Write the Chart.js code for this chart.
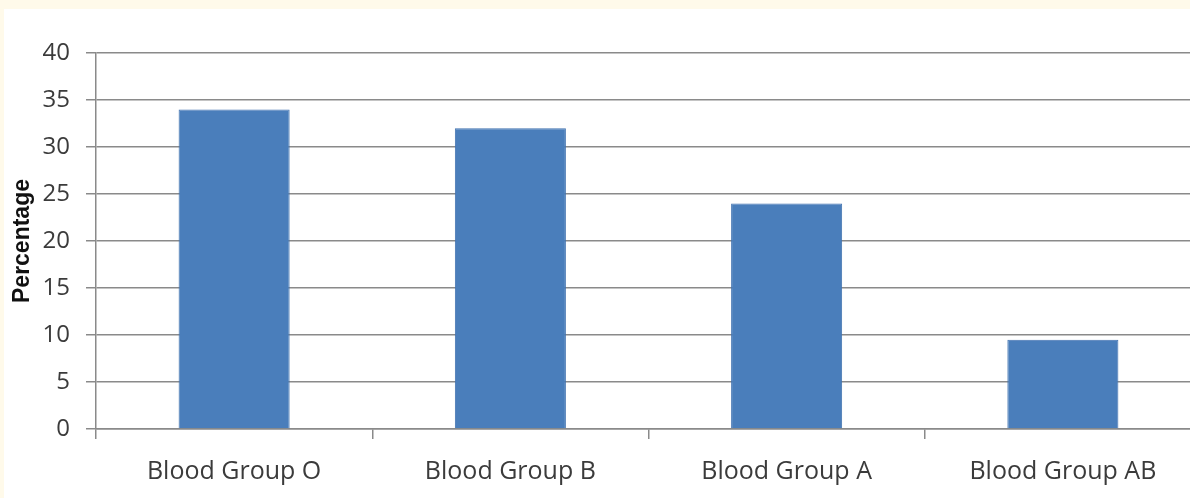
<!DOCTYPE html>
<html>
<head>
<meta charset="utf-8">
<script src="https://cdn.jsdelivr.net/npm/chart.js@4/dist/chart.umd.min.js"></script>
<style>
  html, body { margin: 0; padding: 0; width: 1190px; height: 498px; overflow: hidden; background: #fffaea; }
  #wrap { position: absolute; left: 4px; top: 9px; width: 1200px; height: 489px; background: #ffffff; }
  canvas { display: block; }
</style>
</head>
<body>
<div id="wrap"><canvas id="c" width="1200" height="489"></canvas></div>
<script>
const categories = ["Blood Group O", "Blood Group B", "Blood Group A", "Blood Group AB"];
const percentages = [34, 32, 24, 9.5];
const yTicks = [0, 5, 10, 15, 20, 25, 30, 35, 40];
const yTitle = "Percentage";

const gridColor = "#8a8a8a";
const textColor = "#3b3b3b";

new Chart(document.getElementById("c"), {
  type: "bar",
  data: {
    labels: categories,
    datasets: [{
      data: percentages,
      backgroundColor: "#4a7ebb",
      borderColor: "#4172b0",
      borderWidth: 1,
      categoryPercentage: 1,
      barPercentage: 0.402
    }]
  },
  options: {
    responsive: false,
    animation: false,
    layout: { padding: { left: 0, right: 3, top: 44, bottom: 0 } },
    plugins: { legend: { display: false }, tooltip: { enabled: false } },
    scales: {
      x: {
        offset: true,
        border: { display: true, color: gridColor, width: 1.5 },
        grid: { display: true, drawOnChartArea: false, offset: true, color: gridColor, lineWidth: 1.5, tickLength: 10 },
        ticks: { color: textColor, font: { family: "'Open Sans'", size: 25 }, padding: 18, maxRotation: 0, autoSkip: false },
        afterFit: (s) => { s.height = 69; }
      },
      y: {
        min: 0,
        max: 40,
        afterBuildTicks: (s) => { s.ticks = yTicks.map(v => ({ value: v })); },
        border: { display: true, color: gridColor, width: 1.5 },
        grid: { color: gridColor, lineWidth: 1.5, tickLength: 10 },
        ticks: { color: textColor, font: { family: "'Open Sans'", size: 24 }, padding: 16 },
        title: { display: true, text: yTitle, color: "#111111", font: { family: "'Liberation Sans'", size: 23, weight: "bold" }, padding: { top: 5, bottom: 0 } },
        afterFit: (s) => { s.width = 92; }
      }
    }
  }
});
</script>
</body>
</html>
